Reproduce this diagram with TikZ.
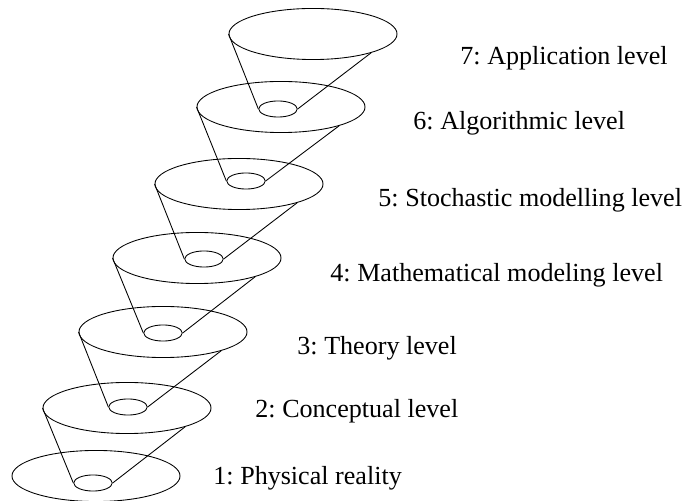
\documentclass[tikz,border=0pt]{standalone}
\usepackage{fontspec}
\setmainfont{Liberation Serif}
\frenchspacing
\usetikzlibrary{shapes.geometric}

\begin{document}
\begin{tikzpicture}[x=0.46pt, y=-0.46pt,
    disc/.style={ellipse, draw, inner sep=0pt, minimum width=77.3pt, minimum height=23.5pt},
    hole/.style={ellipse, draw, inner sep=0pt, minimum width=17.7pt, minimum height=7.4pt},
    levellabel/.style={anchor=base west, inner sep=0pt, font=\fontsize{12}{14}\selectfont}]
  \useasboundingbox (0,0) rectangle (685,501);

  % Level discs (bottom to top)
  \node[disc] (d1) at (96,476) {};
  \node[disc] (d2) at (127,408) {};
  \node[disc] (d3) at (163,332) {};
  \node[disc] (d4) at (197,258) {};
  \node[disc] (d5) at (239,184) {};
  \node[disc] (d6) at (281,107) {};
  \node[disc] (d7) at (313,34) {};

  % Holes in the discs
  \node[hole] (h1) at (93,483) {};
  \node[hole] (h2) at (128,407) {};
  \node[hole] (h3) at (163,333) {};
  \node[hole] (h4) at (204,259) {};
  \node[hole] (h5) at (246,181) {};
  \node[hole] (h6) at (278,109) {};

  % Cones from each disc down into the hole below
  \draw (d2.west) -- (h1.west);
  \draw (d2.-18) -- (h1.east);
  \draw (d3.west) -- (h2.west);
  \draw (d3.-18) -- (h2.east);
  \draw (d4.west) -- (h3.west);
  \draw (d4.-18) -- (h3.east);
  \draw (d5.west) -- (h4.west);
  \draw (d5.-18) -- (h4.east);
  \draw (d6.west) -- (h5.west);
  \draw (d6.-18) -- (h5.east);
  \draw (d7.west) -- (h6.west);
  \draw (d7.-18) -- (h6.east);

  % Labels
  \node[levellabel] (t1) at (213,485) {1: Physical reality};
  \node[levellabel] (t2) at (255,418) {2: Conceptual level};
  \node[levellabel] (t3) at (297,355) {3: Theory level};
  \node[levellabel] (t4) at (330,282) {4: Mathematical modeling level};
  \node[levellabel] (t5) at (378,207) {5: Stochastic modelling level};
  \node[levellabel] (t6) at (413,130) {6: Algorithmic level};
  \node[levellabel] (t7) at (460,65) {7: Application level};
\end{tikzpicture}
\end{document}
